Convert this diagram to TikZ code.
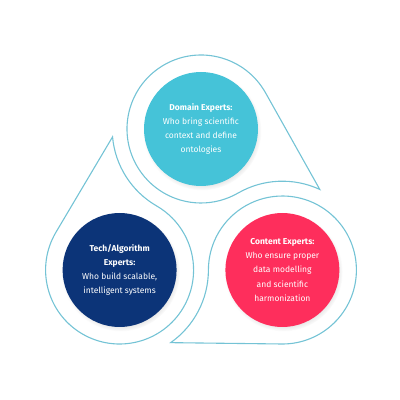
\documentclass[tikz,border=0pt]{standalone}
\usepackage{fontspec}
\setmainfont{Fira Sans}
\usetikzlibrary{shadows}
\definecolor{outl}{HTML}{74C3D5}
\definecolor{domaincol}{HTML}{45C3D8}
\definecolor{techcol}{HTML}{0C3478}
\definecolor{contentcol}{HTML}{FE2E5C}
\tikzset{
  dropline/.style={draw=outl, line width=1.1pt, line join=miter},
  expert/.style={circle, minimum size=114pt, inner sep=0pt, text=white, align=center,
    font=\fontsize{8.5}{14.2}\selectfont,
    circular drop shadow={shadow xshift=1pt, shadow yshift=-2pt, shadow scale=1.04, opacity=0.3}},
}
\begin{document}
\begin{tikzpicture}[x=1pt,y=1pt]
\useasboundingbox (0,0) rectangle (400,400);
\coordinate (G) at (201,177);
\foreach \r in {0,120,240}{
  \begin{scope}[shift={(G)}, rotate=\r, shift={(0,94)}]
    \draw[dropline] (29.3:74) arc[start angle=29.3, end angle=300, radius=74]
      arc[start angle=120, end angle=65.1, radius=88.8] -- cycle;
  \end{scope}
}
\node[expert, fill=domaincol] (domain) at (201,271)
  {\textbf{Domain Experts:}\\Who bring scientific\\context and define\\ontologies};
\node[expert, fill=techcol] (tech) at (119.6,130)
  {\textbf{Tech/Algorithm}\\\textbf{Experts:}\\Who build scalable,\\intelligent systems};
\node[expert, fill=contentcol] (content) at (282.4,130)
  {\textbf{Content Experts:}\\Who ensure proper\\data modelling\\and scientific\\harmonization};
\end{tikzpicture}
\end{document}
